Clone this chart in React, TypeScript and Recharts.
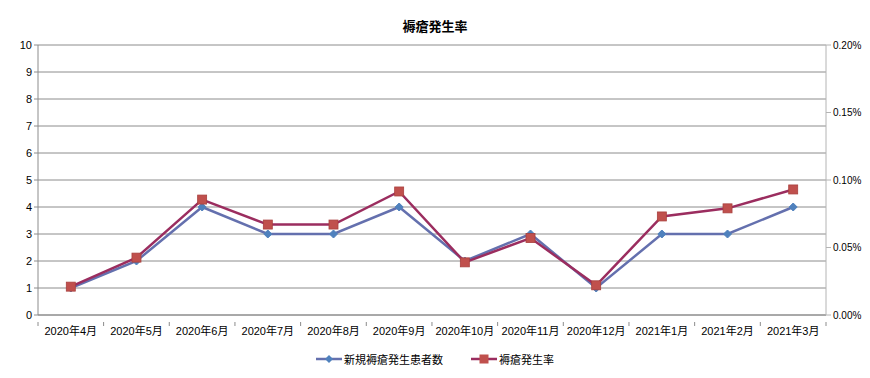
import * as React from "react";
import {
  LineChart,
  Line,
  XAxis,
  YAxis,
  CartesianGrid,
  Legend,
} from "recharts";

const months = [
  "2020年4月", "2020年5月", "2020年6月", "2020年7月", "2020年8月", "2020年9月",
  "2020年10月", "2020年11月", "2020年12月", "2021年1月", "2021年2月", "2021年3月",
];

// 新規褥瘡発生患者数 (left axis)
const newPatients = [1, 2, 4, 3, 3, 4, 2, 3, 1, 3, 3, 4];

// 褥瘡発生率 in percent (right axis)
const incidenceRate = [0.021, 0.0425, 0.0855, 0.067, 0.067, 0.0915, 0.039, 0.057, 0.022, 0.073, 0.079, 0.093];

const leftTicks = [0, 1, 2, 3, 4, 5, 6, 7, 8, 9, 10];
const rightTicks = [0, 0.05, 0.1, 0.15, 0.2];

const chartData = months.map((m, i) => ({
  month: m,
  patients: newPatients[i],
  rate: incidenceRate[i],
}));

const BLUE_LINE = "#6470ae";
const BLUE_MARK = "#4f81bd";
const RED_LINE = "#9b2d5f";
const RED_MARK = "#c0504d";
const FONT = "'Liberation Sans', Arial, 'Noto Sans CJK JP', sans-serif";
const HALF_BAND = 32.8;

const Diamond = (props: any) => {
  const { cx, cy } = props;
  if (cx == null || cy == null) return null;
  const r = 4;
  return (
    <path
      d={`M${cx},${cy - r} L${cx + r},${cy} L${cx},${cy + r} L${cx - r},${cy} Z`}
      fill={BLUE_MARK}
      stroke={BLUE_MARK}
    />
  );
};

const Square = (props: any) => {
  const { cx, cy } = props;
  if (cx == null || cy == null) return null;
  const r = 4.5;
  return (
    <rect x={cx - r} y={cy - r} width={r * 2} height={r * 2} fill={RED_MARK} stroke="#a9403e" strokeWidth={0.8} />
  );
};

// category label plus Excel-style tick marks on the category boundaries
const MonthTick = (props: any) => {
  const { x, y, payload, index } = props;
  return (
    <g>
      {index === 0 && (
        <line x1={x - HALF_BAND} y1={y - 1} x2={x - HALF_BAND} y2={y + 3} stroke="#8c8c8c" />
      )}
      <line x1={x + HALF_BAND} y1={y - 1} x2={x + HALF_BAND} y2={y + 3} stroke="#8c8c8c" />
      <text x={x} y={y + 12} textAnchor="middle" fontSize={11} fill="#000" fontFamily={FONT}>
        {payload.value}
      </text>
    </g>
  );
};

const renderLegend = () => (
  <div style={{ display: "flex", justifyContent: "center", gap: 28, fontSize: 11, fontFamily: FONT, color: "#000", paddingTop: 9 }}>
    <span style={{ display: "flex", alignItems: "center", gap: 2 }}>
      <svg width={26} height={10}>
        <line x1={0} y1={5} x2={26} y2={5} stroke={BLUE_LINE} strokeWidth={2.5} />
        <path d="M13,1 L17,5 L13,9 L9,5 Z" fill={BLUE_MARK} />
      </svg>
      新規褥瘡発生患者数
    </span>
    <span style={{ display: "flex", alignItems: "center", gap: 2 }}>
      <svg width={26} height={10}>
        <line x1={0} y1={5} x2={26} y2={5} stroke={RED_LINE} strokeWidth={2.5} />
        <rect x={8.5} y={0.5} width={9} height={9} fill={RED_MARK} />
      </svg>
      褥瘡発生率
    </span>
  </div>
);

export default function App() {
  return (
    <div style={{ position: "absolute", left: 0, top: 0, width: 870, height: 378, background: "#fff" }}>
      <div
        style={{
          position: "absolute",
          top: 16,
          left: 0,
          width: 870,
          textAlign: "center",
          fontSize: 13,
          fontWeight: "bold",
          fontFamily: "'Noto Sans CJK JP', sans-serif",
          color: "#000",
        }}
      >
        褥瘡発生率
      </div>
      <LineChart
        width={870}
        height={378}
        data={chartData}
        margin={{ top: 45, right: 0, left: 0, bottom: 0 }}
      >
        <CartesianGrid yAxisId="left" vertical={false} stroke="#8c8c8c" ticks={leftTicks} />
        <XAxis
          dataKey="month"
          tickLine={false}
          axisLine={{ stroke: "#8c8c8c" }}
          tick={<MonthTick />}
          interval={0}
          height={27}
          padding={{ left: HALF_BAND, right: HALF_BAND }}
        />
        <YAxis
          yAxisId="left"
          domain={[0, 10]}
          ticks={leftTicks}
          width={38}
          axisLine={{ stroke: "#8c8c8c" }}
          tickLine={{ stroke: "#8c8c8c" }}
          tickSize={4}
          tick={{ fontSize: 11, fill: "#000", fontFamily: FONT }}
        />
        <YAxis
          yAxisId="right"
          orientation="right"
          domain={[0, 0.2]}
          ticks={rightTicks}
          width={44}
          axisLine={{ stroke: "#b4b4b4" }}
          tickLine={{ stroke: "#b4b4b4" }}
          tickSize={5}
          tickFormatter={(v: number) => `${v.toFixed(2)}%`}
          tick={{ fontSize: 10, fill: "#000", fontFamily: FONT, textAnchor: "start" }}
        />
        <Legend verticalAlign="bottom" height={36} content={renderLegend} />
        <Line
          yAxisId="left"
          dataKey="patients"
          name="新規褥瘡発生患者数"
          stroke={BLUE_LINE}
          strokeWidth={2.5}
          dot={<Diamond />}
          activeDot={false}
          isAnimationActive={false}
        />
        <Line
          yAxisId="right"
          dataKey="rate"
          name="褥瘡発生率"
          stroke={RED_LINE}
          strokeWidth={2.5}
          dot={<Square />}
          activeDot={false}
          isAnimationActive={false}
        />
      </LineChart>
    </div>
  );
}
